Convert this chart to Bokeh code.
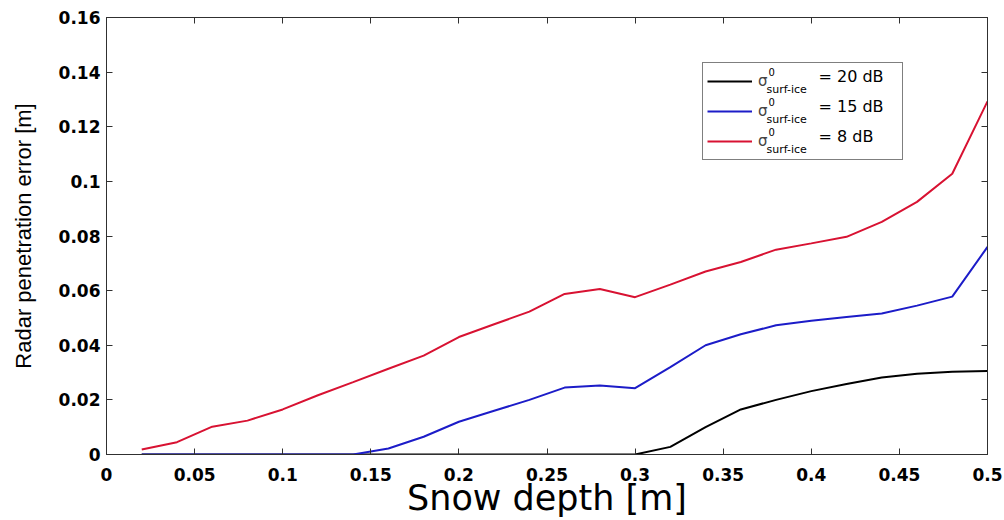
from bokeh.plotting import figure
from bokeh.models import Range1d, FixedTicker, LinearAxis, Legend, LegendItem, Label
from bokeh.embed import file_html
from bokeh.resources import INLINE

# ---- data ----
snow_depth = [0.02, 0.04, 0.06, 0.08, 0.10, 0.12, 0.14, 0.16, 0.18, 0.20, 0.22, 0.24, 0.26,
              0.28, 0.30, 0.32, 0.34, 0.36, 0.38, 0.40, 0.42, 0.44, 0.46, 0.48, 0.50]
err_20db = [0.0, 0.0, 0.0, 0.0, 0.0, 0.0, 0.0, 0.0, 0.0, 0.0, 0.0, 0.0, 0.0,
            0.0, 0.0, 0.0028, 0.0100, 0.0165, 0.0200, 0.0232, 0.0258, 0.0282, 0.0296, 0.0303, 0.0306]
err_15db = [0.0, 0.0, 0.0, 0.0, 0.0, 0.0, 0.0, 0.0022, 0.0065, 0.0120, 0.0160, 0.0200, 0.0245,
            0.0253, 0.0243, 0.0320, 0.0400, 0.0440, 0.0473, 0.0490, 0.0503, 0.0516, 0.0545, 0.0578, 0.0760]
err_8db = [0.0018, 0.0045, 0.0102, 0.0124, 0.0165, 0.0217, 0.0265, 0.0314, 0.0362, 0.0430, 0.0477, 0.0523, 0.0588,
           0.0606, 0.0576, 0.0622, 0.0670, 0.0705, 0.0750, 0.0773, 0.0797, 0.0852, 0.0925, 0.1028, 0.1293]

series_values = ["20 dB", "15 dB", "8 dB"]
series_colors = ["#000000", "#1c1cc8", "#d81232"]

x_ticks = [0.0, 0.05, 0.1, 0.15, 0.2, 0.25, 0.3, 0.35, 0.4, 0.45, 0.5]
x_tick_labels = ["0", "0.05", "0.1", "0.15", "0.2", "0.25", "0.3", "0.35", "0.4", "0.45", "0.5"]
y_ticks = [0.0, 0.02, 0.04, 0.06, 0.08, 0.1, 0.12, 0.14, 0.16]
y_tick_labels = ["0", "0.02", "0.04", "0.06", "0.08", "0.1", "0.12", "0.14", "0.16"]

x_title = "Snow depth [m]"
y_title = "Radar penetration error [m]"

AXIS_COLOR = "#303030"
TICK_FONT = "DejaVu Sans"
FW, FH = 881, 437
X0, X1, Y0, Y1 = 0.0, 0.5, 0.0, 0.16

p = figure(frame_width=FW, frame_height=FH,
           x_range=Range1d(X0, X1), y_range=Range1d(Y0, Y1),
           output_backend="svg", toolbar_location=None,
           min_border_left=106, min_border_right=17, min_border_top=17, min_border_bottom=40,
           background_fill_color="white", border_fill_color="white")

p.xgrid.visible = False
p.ygrid.visible = False
p.outline_line_color = AXIS_COLOR
p.outline_line_width = 1

# bottom axis
xa = p.xaxis[0]
xa.ticker = FixedTicker(ticks=x_ticks)
xa.major_label_overrides = dict(zip(x_ticks, x_tick_labels))
xa.axis_label = x_title
xa.axis_label_text_font = "DejaVu Sans"
xa.axis_label_text_font_size = "35px"
xa.axis_label_text_font_style = "normal"
xa.axis_label_text_color = "black"
xa.axis_label_standoff = -6
xa.major_label_text_font = TICK_FONT
xa.major_label_text_font_size = "17px"
xa.major_label_text_font_style = "bold"
xa.major_label_text_color = "black"
xa.major_label_standoff = 13
xa.major_tick_in = 6
xa.major_tick_out = 0
xa.minor_tick_line_color = None
xa.axis_line_color = AXIS_COLOR
xa.major_tick_line_color = AXIS_COLOR

# left axis
ya = p.yaxis[0]
ya.ticker = FixedTicker(ticks=y_ticks)
ya.major_label_overrides = dict(zip(y_ticks, y_tick_labels))
ya.axis_label = y_title
ya.axis_label_text_font = "Liberation Sans"
ya.axis_label_text_font_size = "22px"
ya.axis_label_text_font_style = "normal"
ya.axis_label_text_color = "black"
ya.axis_label_standoff = 20
ya.major_label_text_font = TICK_FONT
ya.major_label_text_font_size = "17px"
ya.major_label_text_font_style = "bold"
ya.major_label_text_color = "black"
ya.major_label_standoff = 6
ya.major_tick_in = 6
ya.major_tick_out = 0
ya.minor_tick_line_color = None
ya.axis_line_color = AXIS_COLOR
ya.major_tick_line_color = AXIS_COLOR

# top and right axes: ticks only (MATLAB box), labels not drawn
for side, ticks in (("above", x_ticks), ("right", y_ticks)):
    ax = LinearAxis(ticker=FixedTicker(ticks=ticks))
    ax.major_label_text_color = None
    ax.major_label_text_alpha = 0
    ax.major_label_text_font_size = "1px"
    ax.major_label_standoff = 0
    ax.major_tick_in = 6
    ax.major_tick_out = 0
    ax.minor_tick_line_color = None
    ax.axis_line_color = AXIS_COLOR
    ax.major_tick_line_color = AXIS_COLOR
    p.add_layout(ax, side)

series = [err_20db, err_15db, err_8db]
renderers = []
for vals, col in zip(series, series_colors):
    r = p.line(snow_depth, vals, line_color=col, line_width=2)
    renderers.append(r)

legend = Legend(items=[LegendItem(label="σ", renderers=[r]) for r in renderers],
                location=(596, 294),
                orientation="vertical",
                glyph_width=45, glyph_height=28,
                label_height=28, label_width=140,
                label_standoff=6, padding=4, spacing=2, margin=0,
                label_text_font="DejaVu Sans", label_text_font_size="15px",
                label_text_baseline="alphabetic",
                border_line_color="black", border_line_width=1,
                background_fill_color="white", background_fill_alpha=0.0)
p.add_layout(legend)


def fx(px):
    # frame pixel offset -> data x (legend text placement)
    return X0 + (X1 - X0) * px / FW


def fy(px):
    return Y0 + (Y1 - Y0) * px / FH


# sub/superscripts and values of the legend labels
for i, sv in enumerate(series_values):
    dy = 30 * i
    p.add_layout(Label(x=fx(662), y=fy(387 - dy), text="0",
                       text_font="DejaVu Sans", text_font_size="10px", text_baseline="top",
                       text_color="black"))
    p.add_layout(Label(x=fx(660), y=fy(365 - dy), text="surf-ice",
                       text_font="DejaVu Sans", text_font_size="11px", text_baseline="alphabetic",
                       text_color="black"))
    p.add_layout(Label(x=fx(712), y=fy(378 - dy), text="= " + sv,
                       text_font="DejaVu Sans", text_font_size="16px", text_baseline="middle",
                       text_color="black"))

open("out.html", "w").write(file_html(p, INLINE))
